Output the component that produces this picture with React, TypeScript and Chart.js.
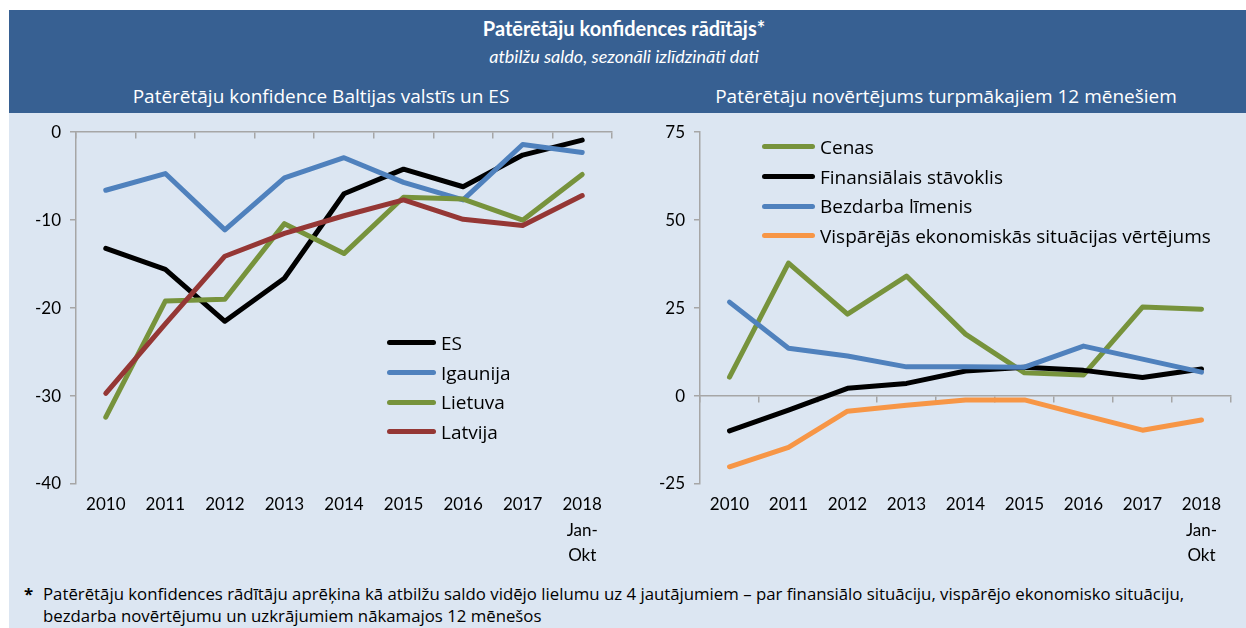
import React, { useEffect, useRef } from "react";
import { Chart, registerables } from "chart.js";

Chart.register(...registerables);

// ---------- data ----------
const categories: (string | string[])[] = [
  "2010", "2011", "2012", "2013", "2014", "2015", "2016", "2017", ["2018", "Jan-", "Okt"],
];

// left panel: consumer confidence
const es = [-13.2, -15.6, -21.5, -16.6, -7.0, -4.2, -6.2, -2.6, -0.9];
const igaunija = [-6.6, -4.7, -11.1, -5.2, -2.9, -5.7, -7.7, -1.4, -2.3];
const lietuva = [-32.4, -19.2, -19.0, -10.4, -13.8, -7.4, -7.6, -10.0, -4.8];
const latvija = [-29.7, -21.8, -14.1, -11.5, -9.5, -7.7, -9.9, -10.6, -7.2];

// right panel: expectations for next 12 months
const cenas = [5.4, 37.8, 23.3, 34.1, 17.6, 6.6, 6.0, 25.3, 24.7];
const finansialais = [-9.9, -4.0, 2.2, 3.6, 7.1, 8.2, 7.3, 5.3, 7.7];
const bezdarba = [26.7, 13.6, 11.4, 8.3, 8.3, 8.2, 14.2, 10.5, 6.8];
const visparejas = [-20.1, -14.6, -4.3, -2.6, -1.1, -1.1, -5.4, -9.7, -6.8];

const leftTicks = { min: -40, max: 0, step: 10 };
const rightTicks = { min: -25, max: 75, step: 25 };

const leftSeries = [
  { label: "ES", data: es, color: "#000000" },
  { label: "Igaunija", data: igaunija, color: "#4F81BD" },
  { label: "Lietuva", data: lietuva, color: "#77933C" },
  { label: "Latvija", data: latvija, color: "#953735" },
];
const rightSeries = [
  { label: "Cenas", data: cenas, color: "#77933C" },
  { label: "Finansiālais stāvoklis", data: finansialais, color: "#000000" },
  { label: "Bezdarba līmenis", data: bezdarba, color: "#4F81BD" },
  { label: "Vispārējās ekonomiskās situācijas vērtējums", data: visparejas, color: "#F79646" },
];

const FONT = "Lato, 'Open Sans', sans-serif";
const FONT2 = "'Open Sans', Lato, sans-serif";
const GREY = "#A6A6A6";

type Series = { label: string; data: number[]; color: string };

function makeConfig(
  series: Series[],
  ticks: { min: number; max: number; step: number },
  yWidth: number,
  padRight: number
): any {
  return {
    type: "line",
    data: {
      labels: categories,
      datasets: series.map((s, i) => ({
        label: s.label,
        data: s.data,
        borderColor: s.color,
        backgroundColor: s.color,
        borderWidth: 5,
        pointRadius: 0,
        pointHoverRadius: 0,
        tension: 0,
        borderCapStyle: "round",
        borderJoinStyle: "round",
        xAxisID: "x",
        yAxisID: "y",
        order: series.length - i,
      })),
    },
    options: {
      responsive: false,
      animation: false,
      maintainAspectRatio: false,
      layout: { padding: { top: 19, right: padRight, bottom: 0, left: 0 } },
      plugins: { legend: { display: false }, tooltip: { enabled: false } },
      events: [],
      scales: {
        y: {
          type: "linear",
          position: "left",
          min: ticks.min,
          max: ticks.max,
          ticks: {
            stepSize: ticks.step,
            color: "#000000",
            font: { family: FONT, size: 17 },
            padding: 9,
          },
          grid: { drawOnChartArea: false, tickLength: 6, color: GREY, lineWidth: 1.5 },
          border: { color: GREY, width: 1.5 },
          afterFit: (s: any) => {
            s.width = yWidth;
          },
        },
        x: {
          type: "category",
          position: { y: 0 },
          offset: true,
          ticks: { display: false },
          grid: { offset: true, drawOnChartArea: false, tickLength: 6, color: GREY, lineWidth: 1.5 },
          border: { color: GREY, width: 1.5 },
        },
        x2: {
          type: "category",
          position: "bottom",
          offset: true,
          grid: { display: false, drawTicks: false },
          border: { display: false },
          ticks: {
            color: "#000000",
            font: { family: FONT, size: 17, lineHeight: 1.5 },
            padding: 8,
            maxRotation: 0,
            autoSkip: false,
          },
          afterFit: (s: any) => {
            s.height = 86;
          },
        },
      },
    },
  };
}

function LineChart(props: {
  series: Series[];
  ticks: { min: number; max: number; step: number };
  left: number;
  width: number;
  yWidth: number;
  padRight: number;
}) {
  const ref = useRef<HTMLCanvasElement | null>(null);
  useEffect(() => {
    if (!ref.current) return;
    const chart = new Chart(ref.current, makeConfig(props.series, props.ticks, props.yWidth, props.padRight));
    return () => chart.destroy();
  }, []);
  return (
    <canvas
      ref={ref}
      width={props.width}
      height={457}
      style={{ position: "absolute", left: props.left, top: 113, width: props.width, height: 457 }}
    />
  );
}

function Legend(props: { series: Series[]; left: number; top: number; swatch: number; gap: number }) {
  return (
    <div style={{ position: "absolute", left: props.left, top: props.top }}>
      {props.series.map((s) => (
        <div
          key={s.label}
          style={{ display: "flex", alignItems: "center", height: 29.6, whiteSpace: "nowrap" }}
        >
          <span
            style={{
              display: "inline-block",
              width: props.swatch,
              height: 5,
              borderRadius: 3,
              background: s.color,
              marginRight: props.gap,
            }}
          />
          <span style={{ fontFamily: FONT2, fontSize: 19, color: "#000" }}>{s.label}</span>
        </div>
      ))}
    </div>
  );
}

export default function App() {
  const centerText = (text: string, cx: number, cy: number, style: any) => (
    <div
      style={{
        position: "absolute",
        left: cx - 400,
        width: 800,
        top: cy - 15,
        height: 30,
        lineHeight: "30px",
        textAlign: "center",
        whiteSpace: "nowrap",
        fontFamily: FONT,
        color: "#FFFFFF",
        ...style,
      }}
    >
      {text}
    </div>
  );
  return (
    <div style={{ position: "absolute", left: 0, top: 0, width: 1246, height: 628, background: "#FFFFFF", overflow: "hidden" }}>
      <div style={{ position: "absolute", left: 9, top: 10, width: 1237, height: 103, background: "#376092" }} />
      <div style={{ position: "absolute", left: 9, top: 113, width: 1237, height: 515, background: "#DCE6F2" }} />
      {centerText("Patērētāju konfidences rādītājs*", 624, 28, { fontWeight: 700, fontSize: 20 })}
      {centerText("atbilžu saldo, sezonāli izlīdzināti dati", 624, 56, { fontStyle: "italic", fontSize: 18 })}
      {centerText("Patērētāju konfidence Baltijas valstīs un ES", 321, 96, { fontSize: 19, fontFamily: FONT2 })}
      {centerText("Patērētāju novērtējums turpmākajiem 12 mēnešiem", 946, 96, { fontSize: 19, fontFamily: FONT2 })}

      <LineChart series={leftSeries} ticks={leftTicks} left={9} width={612} yWidth={67} padRight={9} />
      <LineChart series={rightSeries} ticks={rightTicks} left={620} width={626} yWidth={80} padRight={15} />

      <Legend series={leftSeries} left={387} top={343 - 14.8} swatch={49} gap={5} />
      <Legend series={rightSeries} left={762} top={147 - 14.8} swatch={53} gap={5} />

      <div
        style={{
          position: "absolute",
          left: 22,
          top: 583,
          width: 1220,
          fontFamily: FONT2,
          fontSize: 16.8,
          lineHeight: "22px",
          color: "#000",
          whiteSpace: "nowrap",
        }}
      >
        <span style={{ position: "absolute", left: 2, top: 0, fontWeight: 700 }}>*</span>
        <div style={{ marginLeft: 21 }}>
          Patērētāju konfidences rādītāju aprēķina kā atbilžu saldo vidējo lielumu uz 4 jautājumiem – par finansiālo situāciju, vispārējo ekonomisko situāciju,
          <br />
          bezdarba novērtējumu un uzkrājumiem nākamajos 12 mēnešos
        </div>
      </div>
    </div>
  );
}
